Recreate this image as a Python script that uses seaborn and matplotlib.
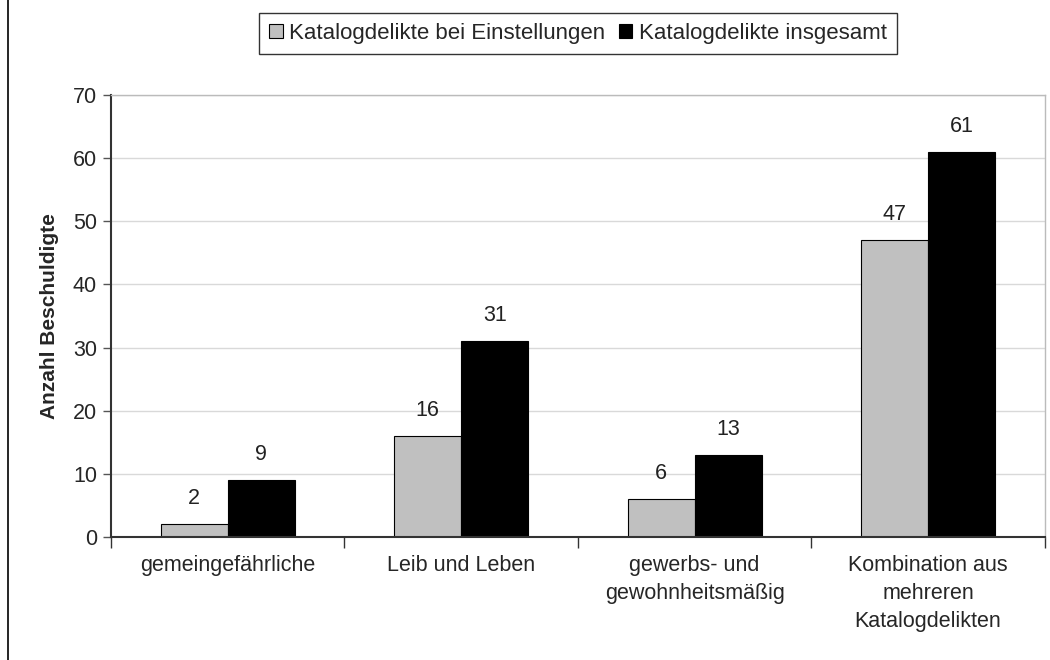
import pandas as pd
import matplotlib.pyplot as plt
import seaborn as sns

# Chart data
categories = ['gemeingefährliche', 'Leib und Leben',
              'gewerbs- und\ngewohnheitsmäßig',
              'Kombination aus\nmehreren\nKatalogdelikten']
series_names = ['Katalogdelikte bei Einstellungen', 'Katalogdelikte insgesamt']
einstellungen = [2, 16, 6, 47]
insgesamt = [9, 31, 13, 61]

df = pd.DataFrame({
    'Kategorie': categories * 2,
    'Serie': [series_names[0]] * 4 + [series_names[1]] * 4,
    'Anzahl': einstellungen + insgesamt,
})

sns.set_style('white')
plt.rcParams['font.family'] = ['Liberation Sans', 'DejaVu Sans']

fig = plt.figure(figsize=(10.5, 6.6), dpi=100)
ax = fig.add_axes([0.1057, 0.1864, 0.8893, 0.6696])

sns.barplot(data=df, x='Kategorie', y='Anzahl', hue='Serie',
            palette=['#C0C0C0', '#000000'], width=0.574,
            edgecolor='black', linewidth=0.8, ax=ax)

for cont in ax.containers:
    ax.bar_label(cont, padding=11, fontsize=15.5, color='#222222')

ax.set_ylim(0, 70)
ax.set_yticks(range(0, 71, 10))
ax.set_xlim(-0.5, 3.5)
ax.yaxis.grid(True, color='#D9D9D9', linewidth=1)
ax.set_axisbelow(True)
ax.set_xlabel('')
ax.set_ylabel('Anzahl Beschuldigte', fontsize=15, fontweight='bold', labelpad=10)
ax.tick_params(axis='y', labelsize=15.5, length=6, width=1, color='#555555', left=True, pad=4)
ax.tick_params(axis='x', labelsize=15.5, length=0, pad=13)
for lbl in ax.get_xticklabels():
    lbl.set_linespacing(1.45)
ax.set_xticks([-0.5, 0.5, 1.5, 2.5, 3.5], minor=True)
ax.tick_params(axis='x', which='minor', length=8, width=1, color='#333333', bottom=True)

for s in ['left', 'bottom']:
    ax.spines[s].set_color('#333333')
    ax.spines[s].set_linewidth(1.5)
for s in ['top', 'right']:
    ax.spines[s].set_color('#BBBBBB')
    ax.spines[s].set_linewidth(1)

leg = ax.legend(loc='center', bbox_to_anchor=(578 / 1050, 1 - 33 / 660),
                bbox_transform=fig.transFigure, ncol=2, fontsize=16,
                frameon=True, fancybox=False, edgecolor='black',
                handlelength=0.6, handleheight=0.6, handletextpad=0.3,
                columnspacing=0.6, borderpad=0.45)
leg.get_frame().set_linewidth(1)

# outer frame of the chart
fig.add_artist(plt.Line2D([8 / 1050, 8 / 1050], [0, 1], color='black', linewidth=1.2,
                          transform=fig.transFigure))

fig.savefig('out.png', dpi=100)
